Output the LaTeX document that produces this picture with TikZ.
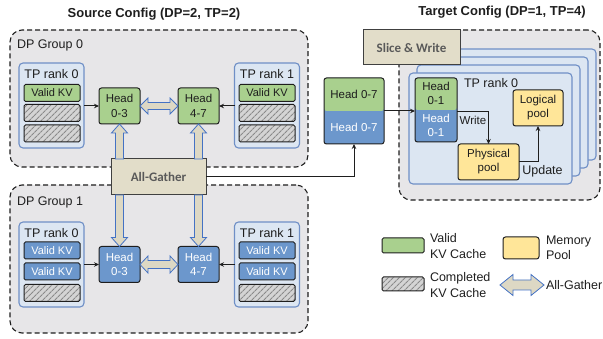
\documentclass[tikz,border=0pt]{standalone}
\usepackage{fontspec}
\setmainfont{Liberation Sans}
\newfontfamily\toolfont{Carlito}
\usetikzlibrary{calc,arrows.meta,patterns.meta}

\definecolor{groupbg}{HTML}{E7E6E8}
\definecolor{rankfill}{HTML}{DCE6F2}
\definecolor{rankline}{HTML}{6F8FC6}
\definecolor{validgreen}{HTML}{A9D08E}
\definecolor{headblue}{HTML}{6C97CC}
\definecolor{poolyellow}{HTML}{FFE699}
\definecolor{toolfill}{HTML}{E2DDC9}
\definecolor{hatchbg}{HTML}{D4D4D4}
\definecolor{hatchline}{HTML}{8A8A8A}
\definecolor{arrowblue}{HTML}{4472C4}
\definecolor{arrowfill}{HTML}{DDD8C4}
\definecolor{ink}{HTML}{1E1E1E}

\tikzset{
  sz/.style 2 args={minimum width=#1, minimum height=#2},
  grp/.style={draw=ink, line width=1.1pt, dash pattern=on 5pt off 3pt, fill=groupbg, rounded corners=12pt},
  rankbox/.style={draw=rankline, line width=1.1pt, fill=rankfill, rounded corners=4pt},
  lbl/.style={font=\fontsize{12.5}{15}\selectfont},
  title/.style={font=\fontsize{13}{15}\selectfont\bfseries},
  cell/.style={draw=ink, line width=1pt, rounded corners=1.5pt, sz={56}{17}, font=\fontsize{11}{13}\selectfont},
  valid/.style={cell, fill=validgreen},
  validb/.style={cell, fill=headblue, text=white},
  done/.style={cell, preaction={fill=hatchbg}, pattern={Lines[angle=45,distance=4pt,line width=1.1pt]}, pattern color=hatchline},
  head/.style={draw=ink, line width=1pt, rounded corners=2.5pt, sz={41}{36}, align=center, font=\fontsize{11.5}{14.5}\selectfont},
  headg/.style={head, fill=validgreen},
  headb/.style={head, fill=headblue, text=white},
  splitbox/.style={draw=ink, line width=1pt, rounded corners=2.5pt, fill=headblue,
    path picture={\fill[validgreen] (path picture bounding box.north west) rectangle (path picture bounding box.east);}},
  pool/.style={draw=ink, line width=1pt, rounded corners=2.5pt, fill=poolyellow, align=center, font=\fontsize{11.5}{14}\selectfont},
  tool/.style={draw=ink!85, line width=1pt, fill=toolfill, font=\fontsize{13}{15}\toolfont\bfseries, text=black!65},
  conn/.style={draw=ink, line width=1pt, -{Stealth[length=5pt,width=4.5pt]}},
  fat/.style={draw=arrowblue, line width=0.8pt, fill=arrowfill, line join=miter},
  lgtext/.style={font=\fontsize{12.5}{15.5}\selectfont, align=left, anchor=west},
  small/.style={font=\fontsize{11.5}{14}\selectfont}
}

% one-headed block arrow: base, tip, half shaft width, half head width
\newcommand\fatone[4]{%
  \coordinate (fn) at ($(#2)!9pt!(#1)$);
  \path[fat] ($(#1)!#3!90:(#2)$) -- ($(fn)!#3!90:(#2)$) -- ($(fn)!#4!90:(#2)$)
    -- (#2) -- ($(fn)!#4!-90:(#2)$) -- ($(fn)!#3!-90:(#2)$) -- ($(#1)!#3!-90:(#2)$) -- cycle;}
% two-headed block arrow: end A, end B, half shaft width, half head width, head length
\newcommand\fattwo[5]{%
  \coordinate (fa) at ($(#1)!#5!(#2)$);
  \coordinate (fb) at ($(#2)!#5!(#1)$);
  \path[fat] (#1) -- ($(fa)!#4!90:(#2)$) -- ($(fa)!#3!90:(#2)$) -- ($(fb)!#3!-90:(#1)$)
    -- ($(fb)!#4!-90:(#1)$) -- (#2) -- ($(fb)!#4!90:(#1)$) -- ($(fb)!#3!90:(#1)$)
    -- ($(fa)!#3!-90:(#2)$) -- ($(fa)!#4!-90:(#2)$) -- cycle;}

\begin{document}
\begin{tikzpicture}[x=1pt,y=-1pt,
  every node/.style={inner sep=0pt, outer sep=0pt, text=ink}]
\useasboundingbox (0,0) rectangle (603,339);

% ---------------- source configuration ----------------
\node[title] (srct) at (154,14) {Source Config (DP=2, TP=2)};

\node[grp, sz={298}{137}] (dp0) at (159,98.5) {};
\node[grp, sz={298}{148}] (dp1) at (159,259) {};
\node[lbl, anchor=west] (dp0l) at (17,45) {DP Group 0};
\node[lbl, anchor=west] (dp1l) at (17,202) {DP Group 1};

% DP group 0
\node[rankbox, sz={65}{85}] (r00) at (51.5,105.5) {};
\node[rankbox, sz={65}{85}] (r01) at (267,105.5) {};
\node[lbl] (r00l) at ($(r00.north)+(0,11)$) {TP rank 0};
\node[lbl] (r01l) at ($(r01.north)+(0,11)$) {TP rank 1};
\node[valid] (c000) at (52,93) {Valid KV};
\node[done]  (c001) at (52,113) {};
\node[done]  (c002) at (52,133.5) {};
\node[valid] (c010) at (267,93) {Valid KV};
\node[done]  (c011) at (267,113) {};
\node[done]  (c012) at (267,133.5) {};
\node[headg] (h00) at (119.5,106) {Head\\0-3};
\node[headg] (h01) at (198.5,106) {Head\\4-7};

% DP group 1
\node[rankbox, sz={65}{85}] (r10) at (51.5,264.5) {};
\node[rankbox, sz={65}{85}] (r11) at (267,264.5) {};
\node[lbl] (r10l) at ($(r10.north)+(0,11)$) {TP rank 0};
\node[lbl] (r11l) at ($(r11.north)+(0,11)$) {TP rank 1};
\node[validb] (c100) at (52,250.5) {Valid KV};
\node[validb] (c101) at (52,271.5) {Valid KV};
\node[done]   (c102) at (52,293) {};
\node[validb] (c110) at (267,250.5) {Valid KV};
\node[validb] (c111) at (267,271.5) {Valid KV};
\node[done]   (c112) at (267,293) {};
\node[headb] (h10) at (119.5,264.5) {Head\\0-3};
\node[headb] (h11) at (198.5,264.5) {Head\\4-7};

\draw[conn] (h00.west -| r00.east) -- (h00.west);
\draw[conn] (h01.east -| r01.west) -- (h01.east);
\draw[conn] (h10.west -| r10.east) -- (h10.west);
\draw[conn] (h11.east -| r11.west) -- (h11.east);

% all-gather collective
\node[tool, sz={95}{36}] (ag) at (158.5,177) {All-Gather};
\fattwo{h00.east}{h01.west}{3.5pt}{8pt}{8pt}
\fattwo{h10.east}{h11.west}{4pt}{8.5pt}{8pt}
\fatone{h00.south |- ag.north}{h00.south}{4pt}{8pt}
\fatone{h01.south |- ag.north}{h01.south}{4pt}{8pt}
\fatone{h10.north |- ag.south}{h10.north}{4pt}{8pt}
\fatone{h11.north |- ag.south}{h11.north}{4pt}{8pt}

% gathered heads
\node[splitbox, sz={60}{66}] (h07) at (354,111) {};
\node[small] (h07g) at ($(h07.center)+(0,-17)$) {Head 0-7};
\node[small, text=white] (h07b) at ($(h07.center)+(0,16)$) {Head 0-7};
\draw[conn] (ag.east) -| (h07.south);

% ---------------- target configuration ----------------
\node[title] (tgtt) at (502,12) {Target Config (DP=1, TP=4)};
\node[grp, sz={201}{170}] (tgt) at (499.5,115) {};
\foreach \k in {3,2,1}
  \node[rankbox, sz={163}{111}] (tr\k) at (490.5+8*\k,128.5-8*\k) {};
\node[rankbox, sz={163}{111}] (tr0) at (490.5,128.5) {};
\node[tool, sz={97}{35}] (sw) at (411.5,47.5) {Slice \& Write};
\node[lbl, anchor=west] (tr0l) at (464,83) {TP rank 0};

\node[splitbox, sz={42}{64}] (h01t) at (436,110) {};
\node[small, align=center] (h01g) at ($(h01t.center)+(0,-16.5)$) {Head\\0-1};
\node[small, align=center, text=white] (h01b) at ($(h01t.center)+(0,15.5)$) {Head\\0-1};
\node[pool, sz={50}{36}] (logi) at (538,108) {Logical\\pool};
\node[pool, sz={61}{36}] (phys) at (488.5,162) {Physical\\pool};

\draw[conn] (h07.east) -- (h07.east -| h01t.west);
\draw[conn] ($(h01t.east)+(0,1.5)$) -| (phys.north);
\draw[conn] (phys.east) -| (logi.south);
\node[small] (wl) at (473,120) {Write};
\node[lbl] (ul) at (542.5,171) {Update};

% ---------------- legend ----------------
\node[valid, sz={42}{15}] (lg1) at (403,245.5) {};
\node[lgtext] (lg1t) at (430,246) {Valid\\KV Cache};
\node[pool, sz={36}{22}] (lg2) at (521,248) {};
\node[lgtext] (lg2t) at (546,248) {Memory\\Pool};
\node[done, sz={42}{14}] (lg3) at (403,284) {};
\node[lgtext] (lg3t) at (430,285) {Completed\\KV Cache};
\coordinate (lga) at (500,285);
\coordinate (lgb) at (544,285);
\fattwo{lga}{lgb}{5pt}{10.5pt}{13pt}
\node[lgtext] (lg4t) at (546,285) {All-Gather};
\end{tikzpicture}
\end{document}
